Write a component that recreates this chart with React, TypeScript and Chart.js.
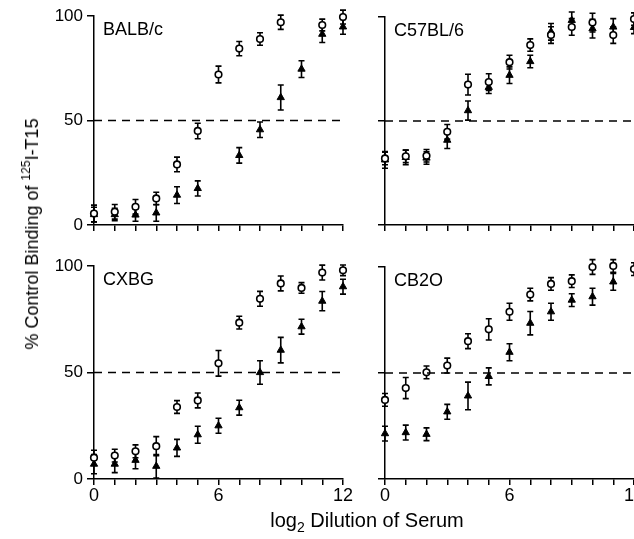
import React, { useEffect, useRef } from "react";
import { Chart, registerables } from "chart.js";

Chart.register(...registerables);

// ---------------- data ----------------
const dilutions = [0, 1, 2, 3, 4, 5, 6, 7, 8, 9, 10, 11, 12];
const yTicks = [0, 50, 100];
const xLabelTicks = [0, 6, 12];
const halfLevel = 50;

const balbCircles = [5.5, 6.3, 8.7, 12.7, 29, 45, 72, 84.4, 89, 97, null, 95.7, 99.5];
const balbCircleErr = [4, 3.5, 3.5, 3, 3.5, 3.7, 4, 3.4, 3, 3.4, 0, 2.8, 3.3];
const balbTriangles = [5, 5, 4.8, 5.8, 14.3, 17.5, null, 33.3, 45.6, 61, 74.6, 91.3, 94.8];
const balbTriangleErr = [3.5, 3, 3, 4, 4, 3.6, 0, 3.7, 3.7, 6, 4, 4, 3.5];

const c57Circles = [32, 33, 33.3, 44.8, 67.5, 68.7, 78.3, 86.5, 91.3, 95.2, 97.3, 91.3, 99];
const c57CircleErr = [3, 3, 3, 3.5, 5, 4, 3.3, 3, 4, 4, 4.5, 4, 3];
const c57Triangles = [31.3, 32.5, 32.2, 40.8, 55, 66.2, 72, 78.6, 92.9, 98.4, 94.4, 95.2, 95];
const c57TriangleErr = [4, 3.5, 3, 4, 4.6, 3, 4, 3, 4, 4, 4.5, 4, 3];

const cxbgCircles = [10, 11, 13, 15.4, 33.8, 36.9, 54.3, 73.4, 84.6, 91.8, 89.7, 96.9, 98];
const cxbgCircleErr = [3.5, 3, 3, 4.5, 3, 3.5, 6, 3, 3.5, 3.5, 2.5, 3.5, 2.5];
const cxbgTriangles = [7, 7, 8.8, 6, 14.6, 20.8, 25, 33.5, 50, 60.5, 71.5, 83.5, 90.3];
const cxbgTriangleErr = [4.5, 4, 4, 5.5, 4, 4, 3.5, 3.5, 5.5, 6, 3.5, 4.5, 3.5];

const cb20Circles = [37.3, 42.9, 50.3, 53.5, 65, 70.6, 78.9, 87, 92, 93.3, 100, 100.5, 99];
const cb20CircleErr = [3, 5, 3, 3.5, 3.5, 5, 4, 3, 3, 3, 3.5, 3, 3];
const cb20Triangles = [21.4, 21.9, 21.1, 31.7, 39.2, 48.4, 59.8, 73.5, 78.9, 84.4, 86, 93, null];
const cb20TriangleErr = [3.5, 3.5, 3, 3.5, 6.5, 4, 4, 5.5, 4, 3, 4, 4, 0];

// ---------------- helpers ----------------
const FONT = "'Liberation Sans', Arial, Helvetica, sans-serif";

const toPoints = (vals: (number | null)[]) =>
  dilutions.map((x, i) => ({ x, y: vals[i] }));

const errorBarPlugin = {
  id: "errorBars",
  beforeDatasetsDraw(chart: any) {
    const ctx = chart.ctx;
    const yScale = chart.scales.y;
    ctx.save();
    ctx.strokeStyle = "#000";
    ctx.lineWidth = 1.6;
    chart.data.datasets.forEach((ds: any, di: number) => {
      if (!ds.errors) return;
      const meta = chart.getDatasetMeta(di);
      ds.data.forEach((pt: any, i: number) => {
        const e = ds.errors[i];
        if (pt.y == null || !e) return;
        const el = meta.data[i];
        if (!el) return;
        const x = el.x;
        const yTop = yScale.getPixelForValue(pt.y + e);
        const yBot = yScale.getPixelForValue(pt.y - e);
        const cap = 3;
        ctx.beginPath();
        ctx.moveTo(x, yTop);
        ctx.lineTo(x, yBot);
        ctx.moveTo(x - cap, yTop);
        ctx.lineTo(x + cap, yTop);
        ctx.moveTo(x - cap, yBot);
        ctx.lineTo(x + cap, yBot);
        ctx.stroke();
      });
    });
    ctx.restore();
  },
};

const panelLabelPlugin = {
  id: "panelLabel",
  afterDraw(chart: any, _args: any, opts: any) {
    const { ctx, chartArea } = chart;
    ctx.save();
    ctx.fillStyle = "#000";
    ctx.font = `18px ${FONT}`;
    ctx.textBaseline = "alphabetic";
    ctx.textAlign = "left";
    ctx.fillText(opts.text, chartArea.left + 9, chartArea.top + 19);
    ctx.restore();
  },
};

type Box = { left: number; top: number; width: number; height: number };
type Area = { left: number; top: number; right: number; bottom: number };

type PanelProps = {
  name: string;
  circles: (number | null)[];
  circleErr: number[];
  triangles: (number | null)[];
  triangleErr: number[];
  box: Box;
  area: Area;
  yLabels: boolean;
  xLabels: boolean;
};

function Panel(p: PanelProps) {
  const ref = useRef<HTMLCanvasElement | null>(null);
  useEffect(() => {
    if (!ref.current) return;
    const wy = p.area.left - p.box.left;
    const padTop = p.area.top - p.box.top;
    const padRight = p.box.left + p.box.width - p.area.right;
    const hx = p.box.top + p.box.height - p.area.bottom;
    const chart = new Chart(ref.current, {
      type: "scatter",
      data: {
        datasets: [
          {
            type: "line",
            data: [
              { x: dilutions[0], y: halfLevel },
              { x: dilutions[dilutions.length - 1], y: halfLevel },
            ],
            borderColor: "#000",
            borderWidth: 1.3,
            borderDash: [8, 6],
            pointRadius: 0,
            fill: false,
            clip: false,
          } as any,
          {
            data: toPoints(p.circles),
            errors: p.circleErr,
            pointStyle: "circle",
            pointRadius: 3.3,
            borderWidth: 1.6,
            borderColor: "#000",
            backgroundColor: "#fff",
            clip: false,
          } as any,
          {
            data: toPoints(p.triangles),
            errors: p.triangleErr,
            pointStyle: "triangle",
            pointRadius: 4.2,
            borderWidth: 1,
            borderColor: "#000",
            backgroundColor: "#000",
            clip: false,
          } as any,
        ],
      },
      options: {
        responsive: false,
        maintainAspectRatio: false,
        animation: false,
        devicePixelRatio: 1,
        events: [],
        layout: { padding: { left: 0, top: padTop, right: padRight, bottom: 0 } },
        plugins: {
          legend: { display: false },
          tooltip: { enabled: false },
          panelLabel: { text: p.name },
        } as any,
        scales: {
          x: {
            type: "linear",
            position: "bottom",
            min: 0,
            max: 12,
            afterBuildTicks: (s: any) => {
              s.ticks = dilutions.map((v) => ({ value: v }));
            },
            ticks: {
              autoSkip: false,
              maxRotation: 0,
              padding: 0,
              color: "#000",
              font: { size: 18, family: FONT },
              callback: (v: any) =>
                p.xLabels && xLabelTicks.includes(Number(v)) ? String(v) : "",
            },
            grid: {
              drawOnChartArea: false,
              drawTicks: true,
              tickLength: 6,
              color: "#000",
              lineWidth: 1.5,
            },
            border: { display: true, color: "#000", width: 1.5 },
            afterFit: (s: any) => {
              s.height = hx;
              s.paddingLeft = 0;
              s.paddingRight = 0;
            },
          },
          y: {
            type: "linear",
            position: "left",
            min: 0,
            max: 100,
            afterBuildTicks: (s: any) => {
              s.ticks = yTicks.map((v) => ({ value: v }));
            },
            ticks: {
              padding: 4,
              color: "#000",
              font: { size: 17, family: FONT },
              callback: (v: any) => (p.yLabels ? String(v) : ""),
            },
            grid: {
              drawOnChartArea: false,
              drawTicks: true,
              tickLength: 7,
              color: "#000",
              lineWidth: 1.5,
            },
            border: { display: true, color: "#000", width: 1.5 },
            afterFit: (s: any) => {
              s.width = wy;
              s.paddingTop = 0;
              s.paddingBottom = 0;
            },
          },
        },
      } as any,
      plugins: [errorBarPlugin, panelLabelPlugin],
    });
    return () => chart.destroy();
  }, []);
  return (
    <canvas
      ref={ref}
      width={p.box.width}
      height={p.box.height}
      style={{
        position: "absolute",
        left: p.box.left,
        top: p.box.top,
        width: p.box.width,
        height: p.box.height,
      }}
    />
  );
}

export default function App() {
  return (
    <div
      style={{
        position: "absolute",
        left: 0,
        top: 0,
        width: 634,
        height: 539,
        overflow: "hidden",
        background: "#fff",
        fontFamily: FONT,
        color: "#000",
      }}
    >
      <Panel
        name="BALB/c"
        circles={balbCircles}
        circleErr={balbCircleErr}
        triangles={balbTriangles}
        triangleErr={balbTriangleErr}
        box={{ left: 0, top: 0, width: 365, height: 240 }}
        area={{ left: 94, top: 16, right: 343, bottom: 225 }}
        yLabels={true}
        xLabels={false}
      />
      <Panel
        name="C57BL/6"
        circles={c57Circles}
        circleErr={c57CircleErr}
        triangles={c57Triangles}
        triangleErr={c57TriangleErr}
        box={{ left: 345, top: 0, width: 310, height: 240 }}
        area={{ left: 385, top: 17, right: 634, bottom: 225 }}
        yLabels={false}
        xLabels={false}
      />
      <Panel
        name="CXBG"
        circles={cxbgCircles}
        circleErr={cxbgCircleErr}
        triangles={cxbgTriangles}
        triangleErr={cxbgTriangleErr}
        box={{ left: 0, top: 245, width: 365, height: 270 }}
        area={{ left: 94, top: 266, right: 343, bottom: 479 }}
        yLabels={true}
        xLabels={true}
      />
      <Panel
        name="CB2O"
        circles={cb20Circles}
        circleErr={cb20CircleErr}
        triangles={cb20Triangles}
        triangleErr={cb20TriangleErr}
        box={{ left: 345, top: 245, width: 310, height: 270 }}
        area={{ left: 385, top: 267, right: 634, bottom: 479 }}
        yLabels={false}
        xLabels={true}
      />
      <div
        style={{
          position: "absolute",
          left: 367,
          top: 510,
          transform: "translateX(-50%)",
          whiteSpace: "nowrap",
          fontSize: 20,
          lineHeight: "20px",
        }}
      >
        log<span style={{ fontSize: 14, position: "relative", top: 5 }}>2</span> Dilution of Serum
      </div>
      <div
        style={{
          position: "absolute",
          left: 33,
          top: 234,
          transform: "translate(-50%, -50%) rotate(-90deg)",
          whiteSpace: "nowrap",
          fontSize: 18,
          lineHeight: "20px",
        }}
      >
        % Control Binding of <span style={{ fontSize: 12, position: "relative", top: -8 }}>125</span>I-T15
      </div>
    </div>
  );
}
